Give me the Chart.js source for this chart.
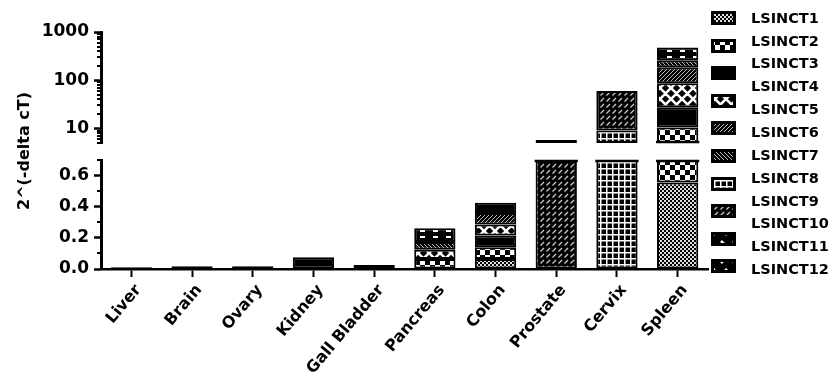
<!DOCTYPE html>
<html>
<head>
<meta charset="utf-8">
<script src="https://cdn.jsdelivr.net/npm/chart.js@4.4.0/dist/chart.umd.min.js"></script>
<style>
  html, body { margin: 0; padding: 0; background: #fff; }
  #wrap { position: relative; width: 837px; height: 372px; }
  #wrap canvas { position: absolute; left: 0; top: 0; }
</style>
</head>
<body>
<div id="wrap">
  <canvas id="upper" width="837" height="372"></canvas>
  <canvas id="lower" width="837" height="372"></canvas>
</div>
<script>
// Tissues along the x axis
const tissues = ['Liver', 'Brain', 'Ovary', 'Kidney', 'Gall Bladder', 'Pancreas', 'Colon', 'Prostate', 'Cervix', 'Spleen'];

// Series names (stack order, bottom to top)
const seriesNames = ['LSINCT1', 'LSINCT2', 'LSINCT3', 'LSINCT4', 'LSINCT5', 'LSINCT6',
                     'LSINCT7', 'LSINCT8', 'LSINCT9', 'LSINCT10', 'LSINCT11', 'LSINCT12'];

// 2^(-delta cT) per tissue for each transcript
const lsinct1  = [null,  null,  null,  null,  null,  null,  0.065, null, null, 0.555];
const lsinct2  = [null,  null,  null,  null,  null,  0.065, 0.075, null, null, 9.95];
const lsinct3  = [0.012, 0.018, 0.018, 0.075, 0.026, null,  0.075, null, null, 16.9];
const lsinct4  = [null,  null,  null,  null,  null,  0.058, 0.07,  null, null, 59.2];
const lsinct5  = [null,  null,  null,  null,  null,  null,  0.075, null, null, 100.4];
const lsinct6  = [null,  null,  null,  null,  null,  0.051, null,  null, null, 74];
const lsinct7  = [null,  null,  null,  null,  null,  null,  null,  null, 9.1,  null];
const lsinct8  = [null,  null,  null,  null,  null,  null,  null,  5.8,  50.9, null];
const lsinct9  = [null,  null,  null,  null,  null,  null,  null,  null, null, null];
const lsinct10 = [null,  null,  null,  null,  null,  null,  null,  null, null, null];
const lsinct11 = [null,  null,  null,  null,  null,  0.087, null,  null, null, 218];
const lsinct12 = [null,  null,  null,  null,  null,  null,  0.065, null, null, null];
const seriesValues = [lsinct1, lsinct2, lsinct3, lsinct4, lsinct5, lsinct6,
                      lsinct7, lsinct8, lsinct9, lsinct10, lsinct11, lsinct12];

// Broken y axis: log segment on top, linear segment below
const upperRange = [5, 1000];
const upperTicks = [10, 100, 1000];
const upperMinorTicks = [5, 6, 7, 8, 9, 20, 30, 40, 50, 60, 70, 80, 90, 200, 300, 400, 500, 600, 700, 800, 900];
const lowerRange = [0, 0.7];
const lowerTicks = [0, 0.2, 0.4, 0.6];
const lowerMinorTicks = [0.1, 0.3, 0.5, 0.7];
const yTitle = '2^(-delta cT)';

// ---- fill patterns (white marks on black) ----
function tile(w, h, paint) {
  const c = document.createElement('canvas');
  c.width = w; c.height = h;
  const g = c.getContext('2d');
  g.fillStyle = '#000';
  g.fillRect(0, 0, w, h);
  g.fillStyle = '#fff';
  g.strokeStyle = '#fff';
  paint(g);
  return document.getElementById('lower').getContext('2d').createPattern(c, 'repeat');
}
const patterns = [
  // fine checker
  tile(4, 4, g => { g.fillStyle = '#ddd'; g.fillRect(0, 0, 2, 2); g.fillRect(2, 2, 2, 2); }),
  // coarse checker
  tile(10, 10, g => { g.fillRect(0, 0, 5, 5); g.fillRect(5, 5, 5, 5); }),
  // solid
  '#000',
  // diamond lattice
  tile(11, 11, g => { g.lineWidth = 2.6; g.beginPath(); g.moveTo(0, 0); g.lineTo(11, 11); g.moveTo(11, 0); g.lineTo(0, 11);
                      g.moveTo(-1, 10); g.lineTo(1, 12); g.moveTo(10, -1); g.lineTo(12, 1); g.moveTo(-1, 1); g.lineTo(1, -1); g.moveTo(10, 12); g.lineTo(12, 10); g.stroke(); }),
  // fine forward hatch
  tile(4, 4, g => { g.strokeStyle = '#bbb'; g.lineWidth = 1; g.beginPath(); g.moveTo(0, 4); g.lineTo(4, 0); g.moveTo(-1, 1); g.lineTo(1, -1); g.moveTo(3, 5); g.lineTo(5, 3); g.stroke(); }),
  // fine back hatch
  tile(4, 4, g => { g.strokeStyle = '#bbb'; g.lineWidth = 1; g.beginPath(); g.moveTo(0, 0); g.lineTo(4, 4); g.moveTo(3, -1); g.lineTo(5, 1); g.moveTo(-1, 3); g.lineTo(1, 5); g.stroke(); }),
  // grid
  tile(6, 6, g => { g.fillRect(0, 0, 6, 1.5); g.fillRect(0, 0, 1.5, 6); }),
  // broken forward hatch
  tile(6, 6, g => { g.strokeStyle = '#ccc'; g.lineWidth = 1.3; g.beginPath(); g.moveTo(0.5, 5.5); g.lineTo(4, 2); g.stroke(); }),
  // wide back strokes
  tile(12, 12, g => { g.lineWidth = 2.5; g.beginPath(); g.moveTo(1, 1); g.lineTo(7, 7); g.stroke(); }),
  // wide forward strokes
  tile(12, 12, g => { g.lineWidth = 2.5; g.beginPath(); g.moveTo(1, 11); g.lineTo(7, 5); g.stroke(); }),
  // short dashes
  tile(13, 6, g => { g.fillRect(4, 2, 5, 2); }),
  // solid
  '#000'
];

const FONT = "'DejaVu Sans', sans-serif";

// Extra short tick marks along the y axis
const minorTicksPlugin = {
  id: 'minorTicks',
  afterDraw(chart, args, opts) {
    const y = chart.scales.y, ctx = chart.ctx;
    const x0 = chart.chartArea.left;
    ctx.save();
    ctx.strokeStyle = '#000';
    ctx.lineWidth = 2;
    for (const v of opts.values) {
      const py = Math.round(y.getPixelForValue(v));
      ctx.beginPath();
      ctx.moveTo(x0 - opts.length, py);
      ctx.lineTo(x0, py);
      ctx.stroke();
    }
    ctx.restore();
  }
};

// Black edge where a bar runs past the broken end of its axis segment
const cutEdgePlugin = {
  id: 'cutEdge',
  afterDatasetsDraw(chart, args, opts) {
    const area = chart.chartArea, ctx = chart.ctx;
    ctx.save();
    ctx.strokeStyle = '#000';
    ctx.lineWidth = 2.5;
    const done = new Set();
    chart.data.datasets.forEach((ds, i) => {
      chart.getDatasetMeta(i).data.forEach((el, j) => {
        if (ds.data[j] == null || done.has(j)) return;
        const top = Math.min(el.y, el.base), bottom = Math.max(el.y, el.base);
        const edge = opts.side === 'top' ? area.top + 1 : area.bottom - 1;
        const crosses = opts.side === 'top' ? (top < area.top && bottom > area.top) : (bottom > area.bottom && top < area.bottom);
        if (crosses) {
          done.add(j);
          ctx.beginPath();
          ctx.moveTo(el.x - el.width / 2 - 1, edge);
          ctx.lineTo(el.x + el.width / 2 + 1, edge);
          ctx.stroke();
        }
      });
    });
    ctx.restore();
  }
};

// Shared y title and the legend
const sideTextPlugin = {
  id: 'sideText',
  afterDraw(chart) {
    const ctx = chart.ctx;
    ctx.save();
    ctx.fillStyle = '#000';
    ctx.font = "bold 16px " + FONT;
    ctx.translate(25, 151);
    ctx.rotate(-Math.PI / 2);
    ctx.textAlign = 'center';
    ctx.textBaseline = 'middle';
    ctx.fillText(yTitle, 0, 0);
    ctx.restore();

    ctx.save();
    for (let i = 0; i < 10; i++) {
      const cy = Math.round(18 + i * 27.6);
      ctx.fillStyle = '#000';
      ctx.fillRect(711, cy - 7, 25, 14);
      ctx.fillStyle = patterns[i];
      ctx.fillRect(714, cy - 4, 19, 8);
    }
    ctx.fillStyle = '#000';
    ctx.font = "bold 14.5px " + FONT;
    ctx.textAlign = 'left';
    ctx.textBaseline = 'middle';
    seriesNames.forEach((name, i) => {
      ctx.fillText(name, 751, 19 + i * 22.85);
    });
    ctx.restore();
  }
};

function makeDatasets() {
  return seriesNames.map((name, i) => ({
    label: name,
    data: seriesValues[i],
    backgroundColor: patterns[i],
    borderColor: '#000',
    borderWidth: 2,
    borderSkipped: false,
    clip: 0,
    barPercentage: 0.68,
    categoryPercentage: 1
  }));
}

const yCommon = {
  stacked: true,
  afterFit: s => { s.width = 101; },
  border: { display: true, color: '#000', width: 3 },
  grid: { drawOnChartArea: false, drawTicks: true, tickLength: 7, tickWidth: 2.5, color: '#000', tickColor: '#000' },
  ticks: { color: '#000', padding: 5, font: { family: FONT, size: 17, weight: 'bold' } }
};

// Upper segment: logarithmic
new Chart(document.getElementById('upper'), {
  type: 'bar',
  data: { labels: tissues, datasets: makeDatasets() },
  options: {
    responsive: false,
    animation: false,
    events: [],
    layout: { padding: { top: 32, bottom: 372 - 143, left: 0, right: 129 } },
    plugins: {
      legend: { display: false }, tooltip: { enabled: false },
      minorTicks: { values: upperMinorTicks, length: 4 },
      cutEdge: { side: 'bottom' }
    },
    scales: {
      x: { stacked: true, display: false },
      y: Object.assign({}, yCommon, {
        type: 'logarithmic',
        min: upperRange[0], max: upperRange[1],
        afterBuildTicks: s => { s.ticks = upperTicks.map(v => ({ value: v })); },
        ticks: Object.assign({}, yCommon.ticks, { callback: v => String(v) })
      })
    }
  },
  plugins: [minorTicksPlugin, cutEdgePlugin]
});

// Lower segment: linear, with the tissue axis
new Chart(document.getElementById('lower'), {
  type: 'bar',
  data: { labels: tissues, datasets: makeDatasets() },
  options: {
    responsive: false,
    animation: false,
    events: [],
    layout: { padding: { top: 160, bottom: 0, left: 0, right: 129 } },
    plugins: {
      legend: { display: false }, tooltip: { enabled: false },
      minorTicks: { values: lowerMinorTicks, length: 4 },
      cutEdge: { side: 'top' }
    },
    scales: {
      x: {
        stacked: true,
        afterFit: s => { s.height = 372 - 269; },
        border: { display: true, color: '#000', width: 2.5 },
        grid: { offset: false, drawOnChartArea: false, drawTicks: true, tickLength: 8, tickWidth: 2, color: '#000', tickColor: '#000' },
        ticks: {
          color: '#000', minRotation: 50, maxRotation: 50, padding: 4, labelOffset: 7, autoSkip: false,
          font: { family: FONT, size: 16, weight: 'bold' }
        }
      },
      y: Object.assign({}, yCommon, {
        type: 'linear',
        min: lowerRange[0], max: lowerRange[1],
        afterBuildTicks: s => { s.ticks = lowerTicks.map(v => ({ value: v })); },
        ticks: Object.assign({}, yCommon.ticks, { callback: v => Number(v).toFixed(1) })
      })
    }
  },
  plugins: [minorTicksPlugin, cutEdgePlugin, sideTextPlugin]
});
</script>
</body>
</html>
